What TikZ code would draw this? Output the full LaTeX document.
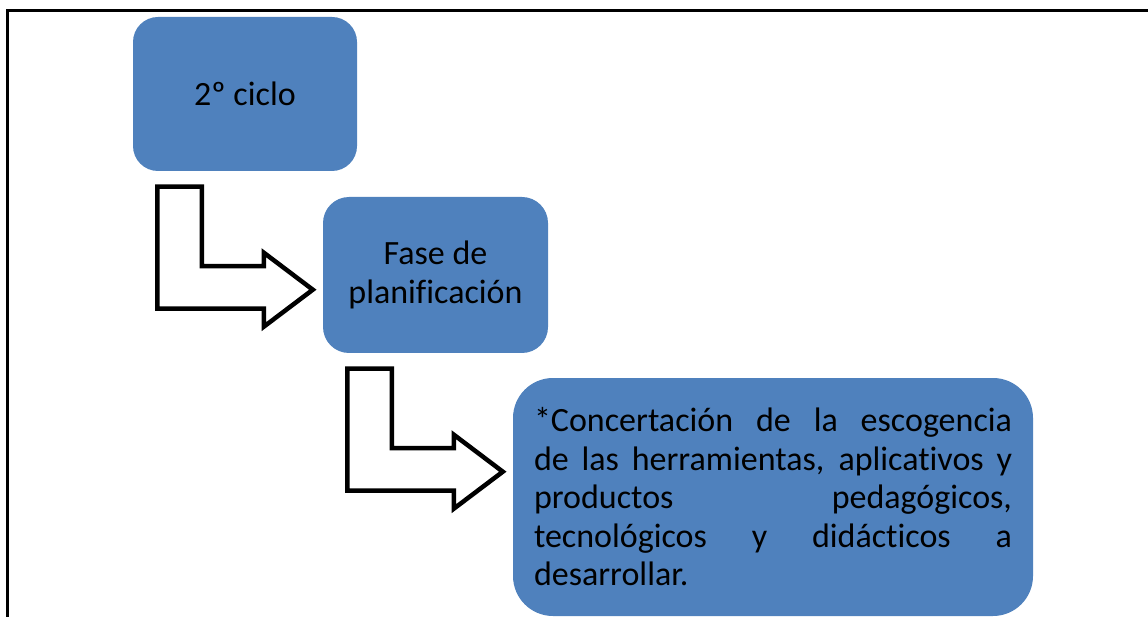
\documentclass[tikz,border=0pt]{standalone}
\usepackage{fontspec}
\setmainfont{Carlito}[Ligatures={NoCommon,NoContextual}]
\definecolor{boxblue}{HTML}{4F81BD}
\tikzset{
  stage/.style={fill=boxblue, rounded corners=#1, inner sep=0pt, align=center,
                font=\fontsize{34pt}{38.5pt}\selectfont},
  bentarrow/.style={draw=black, line width=4.5pt, fill=white, line join=miter},
}
\hbadness=10000

\begin{document}
\begin{tikzpicture}
\useasboundingbox (0,0) rectangle (1148pt,-617pt); % page size
\draw [line width=3pt] (7pt,-617pt) -- (7pt,-11pt) -- (1148pt,-11pt);

\node (ciclo) at (245pt,-94pt) [stage=25pt, minimum width=224pt, minimum height=154pt] {2º ciclo};
\node (fase) at (435.5pt,-275pt) [stage=26pt, minimum width=225pt, minimum height=156pt] {Fase de\\planificación};
\node (concert) at (773pt,-497pt) [stage=40pt, minimum width=520pt, minimum height=238pt,
        text width=478pt, align=justify]
  {*Concertación de la escogencia\linebreak de las herramientas, aplicativos y\linebreak
   productos pedagógicos,\linebreak tecnológicos y didácticos a\linebreak desarrollar.};

% bent arrows hang below the left part of each box
\foreach \b in {ciclo, fase}
  \draw [bentarrow] ([shift={(24.5pt,-15.5pt)}]\b.south west)
        -- ++(44.5pt,0pt) -- ++(0pt,-79.5pt) -- ++(62pt,0pt) -- ++(0pt,13.5pt)
        -- ++(49pt,-37pt) -- ++(-49pt,-37pt) -- ++(0pt,18pt) -- ++(-106.5pt,0pt)
        -- cycle;
\end{tikzpicture}
\end{document}
